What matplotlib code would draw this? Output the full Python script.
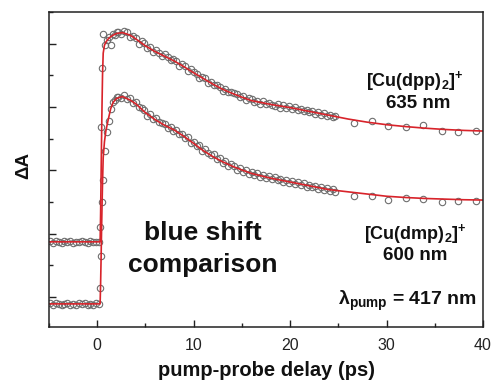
import matplotlib
matplotlib.use('Agg')
import matplotlib.pyplot as plt
from matplotlib.ticker import MultipleLocator

plt.rcParams['font.family'] = ['Liberation Sans', 'DejaVu Sans']
plt.rcParams['mathtext.fontset'] = 'custom'
plt.rcParams['mathtext.rm'] = 'Liberation Sans'
plt.rcParams['mathtext.bf'] = 'Liberation Sans:bold'
plt.rcParams['mathtext.it'] = 'Liberation Sans:italic'

# ---------------- data ----------------
delay = [-4.9, -4.6, -4.3, -4.0, -3.7, -3.4, -3.1, -2.8, -2.5, -2.2, -1.9, -1.6,
         -1.3, -1.0, -0.7, -0.4, -0.1, 0.15,
         0.3, 0.4, 0.5, 0.6, 0.8, 1.0, 1.2, 1.4, 1.6, 1.8, 2.0,
         2.2, 2.5, 2.8, 3.1, 3.4, 3.7, 4.0, 4.3, 4.6, 4.9, 5.2, 5.5, 5.8, 6.1,
         6.4, 6.7, 7.0, 7.3, 7.6, 7.9, 8.2, 8.5, 8.8, 9.1, 9.4, 9.7, 10.0, 10.3,
         10.6, 10.9, 11.2, 11.5, 11.8, 12.1, 12.4, 12.7, 13.0, 13.3, 13.6, 13.9,
         14.2, 14.5, 14.8, 15.1, 15.4, 15.7, 16.0, 16.3, 16.6, 16.9, 17.2, 17.5,
         17.8, 18.1, 18.4, 18.7, 19.0, 19.3, 19.6, 19.9, 20.2, 20.5, 20.8, 21.1,
         21.4, 21.7, 22.0, 22.3, 22.6, 22.9, 23.2, 23.5, 23.8, 24.1, 24.4, 24.7,
         26.6, 28.5, 30.2, 32.0, 33.8, 35.7, 37.4, 39.3]

dpp_data = [1.76, 1.71, 1.77, 1.73, 1.70, 1.76, 1.74, 1.78, 1.71, 1.75, 1.72, 1.77,
            1.73, 1.69, 1.76, 1.74, 1.72, 1.75,
            2.20, 5.36, 7.22, 8.30, 7.95, 8.12, 8.20, 7.95, 8.30, 8.27, 8.36,
            8.38, 8.31, 8.40, 8.36, 8.22, 8.25, 8.18, 8.00, 8.07, 8.01, 7.85, 7.90,
            7.74, 7.80, 7.72, 7.60, 7.66, 7.58, 7.47, 7.52, 7.44, 7.31, 7.35, 7.28,
            7.14, 7.20, 7.10, 7.05, 6.92, 6.95, 6.90, 6.77, 6.80, 6.68, 6.69, 6.64,
            6.52, 6.58, 6.47, 6.48, 6.45, 6.40, 6.30, 6.34, 6.22, 6.28, 6.25, 6.15,
            6.19, 6.10, 6.18, 6.08, 6.12, 6.06, 6.02, 6.09, 5.98, 6.05, 5.96, 6.02,
            5.94, 5.99, 5.90, 5.95, 5.86, 5.91, 5.83, 5.88, 5.79, 5.84, 5.76, 5.81,
            5.71, 5.76, 5.69, 5.73,
            5.49, 5.55, 5.39, 5.36, 5.43, 5.24, 5.21, 5.24]

dmp_data = [-0.20, -0.25, -0.19, -0.23, -0.26, -0.21, -0.18, -0.24, -0.22, -0.27,
            -0.20, -0.23, -0.19, -0.25, -0.21, -0.24, -0.20, -0.22,
            0.28, 1.30, 3.00, 3.70, 4.60, 5.20, 5.55, 5.95, 6.15, 6.22, 6.30,
            6.33, 6.28, 6.38, 6.24, 6.27, 6.12, 6.15, 6.00, 5.98, 5.90, 5.72, 5.78,
            5.62, 5.64, 5.52, 5.50, 5.45, 5.34, 5.38, 5.25, 5.27, 5.14, 5.16, 5.01,
            5.05, 4.87, 4.90, 4.76, 4.80, 4.61, 4.66, 4.56, 4.47, 4.50, 4.35, 4.40,
            4.22, 4.30, 4.14, 4.19, 4.12, 4.02, 4.08, 3.95, 4.02, 3.88, 3.94, 3.85,
            3.91, 3.80, 3.86, 3.76, 3.82, 3.72, 3.78, 3.69, 3.74, 3.64, 3.70, 3.60,
            3.66, 3.57, 3.63, 3.52, 3.59, 3.48, 3.55, 3.46, 3.51, 3.41, 3.48, 3.38,
            3.44, 3.34, 3.40, 3.31,
            3.19, 3.19, 3.06, 3.12, 3.09, 3.00, 3.03, 3.03]

fit_t = [-5.0, 0.30, 0.35, 0.40, 0.45, 0.50, 0.55, 0.62, 0.75, 0.90, 1.14, 1.40,
         1.66, 2.0, 2.6, 3.4, 4.0, 5.0, 6.0, 7.0, 8.0, 9.0, 10.0, 11.0, 12.0,
         13.0, 14.0, 15.0, 16.0, 18.0, 20.0, 22.0, 24.0, 26.0, 28.0, 30.0, 32.0,
         34.0, 36.0, 38.0, 40.0]
dpp_fit = [1.74, 1.74, 2.6, 3.8, 5.0, 6.1, 7.0, 7.7, 7.95, 8.05, 8.15, 8.22,
           8.27, 8.32, 8.35, 8.27, 8.15, 7.93, 7.75, 7.60, 7.45, 7.27, 7.08, 6.90,
           6.72, 6.56, 6.43, 6.31, 6.20, 6.08, 5.98, 5.86, 5.74, 5.62, 5.52, 5.44,
           5.38, 5.33, 5.29, 5.26, 5.24]
dmp_fit = [-0.22, -0.22, 0.4, 1.2, 2.1, 2.9, 3.6, 4.4, 4.9, 5.25, 5.6, 5.95,
           6.15, 6.27, 6.33, 6.22, 6.10, 5.82, 5.60, 5.42, 5.27, 5.07, 4.85, 4.62,
           4.43, 4.27, 4.13, 4.01, 3.90, 3.75, 3.63, 3.51, 3.39, 3.32, 3.25, 3.18,
           3.14, 3.11, 3.09, 3.07, 3.06]

xticks = [0, 10, 20, 30, 40]

# ---------------- figure ----------------
W, H = 493, 383
fig = plt.figure(figsize=(W / 100, H / 100), dpi=100)
ax = fig.add_axes([49 / W, 56 / H, 434 / W, 315 / H])

mk = dict(ls='none', marker='o', ms=4.6, mfc='none', mec='#6e6e6e', mew=0.8)
ax.plot(delay, dpp_data, **mk)
ax.plot(delay, dmp_data, **mk)
ax.plot(fit_t, dpp_fit, color='#d8232a', lw=1.2)
ax.plot(fit_t, dmp_fit, color='#d8232a', lw=1.2)

ax.set_xlim(-5, 40)
ax.set_ylim(-0.95, 9.0)
ax.set_xticks(xticks)
ax.set_xticklabels([str(v) for v in xticks])
ax.xaxis.set_minor_locator(MultipleLocator(5))
ax.yaxis.set_major_locator(MultipleLocator(2))
ax.yaxis.set_minor_locator(MultipleLocator(1))
ax.tick_params(which='both', direction='in', top=False, right=False,
               labelleft=False, width=1.0, color='#222222')
ax.tick_params(which='major', length=5)
ax.tick_params(which='minor', length=3)
ax.tick_params(axis='x', labelsize=11.5, pad=8, labelcolor='#222222')
for s in ax.spines.values():
    s.set_linewidth(1.1)
    s.set_color('#222222')

ax.set_xlabel('pump-probe delay (ps)', fontsize=14.5, fontweight='bold',
              labelpad=6, color='#111111')
fig.text(24 / W, 1 - 166 / H, 'ΔA', rotation=90, ha='center', va='center',
         fontsize=13.5, fontweight='bold', color='#111111')

def ftext(px, py, s, **kw):
    fig.text(px / W, 1 - py / H, s, color='#111111', fontweight='bold', **kw)

ftext(415, 81, r'[Cu(dpp)$_\mathbf{2}$]$^\mathbf{+}$', fontsize=13, ha='center', va='center')
ftext(418, 103, '635 nm', fontsize=13.5, ha='center', va='center')
ftext(415, 234, r'[Cu(dmp)$_\mathbf{2}$]$^\mathbf{+}$', fontsize=13, ha='center', va='center')
ftext(415, 255, '600 nm', fontsize=13.5, ha='center', va='center')
ftext(477, 301, r'λ$_\mathbf{pump}$ = 417 nm', fontsize=14, ha='right', va='center')
ftext(203, 233, 'blue shift', fontsize=19, ha='center', va='center')
ftext(203, 265, 'comparison', fontsize=19, ha='center', va='center')

fig.savefig('out.png', dpi=100)
